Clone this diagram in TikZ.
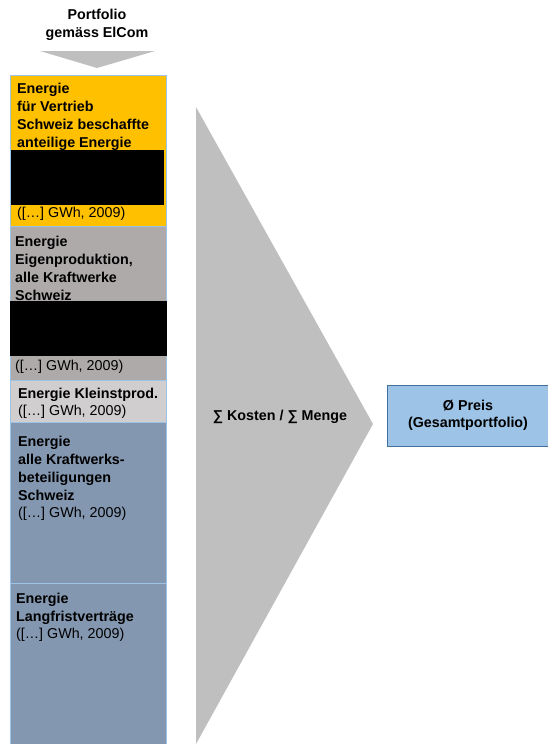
\documentclass[tikz,border=0pt]{standalone}
\usepackage{fontspec}
\setmainfont{Liberation Sans}
\definecolor{cOrange}{HTML}{FFC000}
\definecolor{cGray}{HTML}{AEAAAA}
\definecolor{cLight}{HTML}{D0CECE}
\definecolor{cBlue}{HTML}{8497B0}
\definecolor{cLine}{HTML}{9DC3E6}
\definecolor{cChev}{HTML}{BFBFBF}
\definecolor{cPreis}{HTML}{9DC3E6}
\definecolor{cPreisB}{HTML}{41719C}
\begin{document}
\begin{tikzpicture}[x=1pt,y=-1pt,
  txt/.style={anchor=north west, align=left, inner sep=0pt, font=\fontsize{14.3}{18}\selectfont},
  sect/.style={draw=cLine, line width=0.8pt}]
\useasboundingbox (0,0) rectangle (547,744);
% top arrow
\fill[cChev] (40,51) -- (155,51) -- (97,68) -- cycle;
\node[inner sep=0pt, align=center, font=\bfseries\fontsize{14.3}{18}\selectfont] (title) at (97,25) {Portfolio\\gemäss ElCom};
% column sections
\fill[cOrange] (10,75) rectangle (166,226);
\fill[cGray] (10,226) rectangle (166,380);
\fill[cLight] (10,380) rectangle (166,422);
\fill[cBlue] (10,422) rectangle (166,744);
\draw[sect] (10,744) -- (10,75) -- (166,75) -- (166,744);
\draw[sect] (10,226) -- (166,226);
\draw[sect] (10,380) -- (166,380);
\draw[sect] (10,422) -- (166,422);
\draw[sect] (10,583) -- (166,583);
% black boxes
\fill[black] (11,150) rectangle (164,205);
\fill[black] (10,301) rectangle (167,356);
% texts
\node[txt] (t1) at (17,83) {\bfseries Energie\\\bfseries für Vertrieb\\\bfseries Schweiz beschaffte\\\bfseries anteilige Energie};
\node[txt] (t1b) at (17,207) {([…] GWh, 2009)};
\node[txt] (t2) at (15,236) {\bfseries Energie\\\bfseries Eigenproduktion,\\\bfseries alle Kraftwerke\\\bfseries Schweiz};
\node[txt] (t2b) at (15,360) {([…] GWh, 2009)};
\node[txt] (t3) at (18,388) {\bfseries Energie Kleinstprod.};
\node[txt] (t3b) at (18,405) {([…] GWh, 2009)};
\node[txt] (t4) at (18,436) {\bfseries Energie\\\bfseries alle Kraftwerks-\\\bfseries beteiligungen\\\bfseries Schweiz};
\node[txt] (t4b) at (18,507) {([…] GWh, 2009)};
\node[txt] (t5) at (16,593) {\bfseries Energie\\\bfseries Langfristverträge};
\node[txt] (t5b) at (16,628) {([…] GWh, 2009)};
% chevron
\fill[cChev] (196,107) -- (373,424) -- (196,744) -- cycle;
\node[inner sep=0pt, font=\bfseries\fontsize{14.3}{18}\selectfont] (sum) at (280,417) {∑ Kosten / ∑ Menge};
% preis box
\node[draw=cPreisB, fill=cPreis, line width=0.8pt, minimum width=162pt, minimum height=61pt, align=center, inner sep=0pt, font=\bfseries\fontsize{14.3}{17}\selectfont] (preis) at (468,415.5) {Ø Preis\\(Gesamtportfolio)};
\end{tikzpicture}
\end{document}
